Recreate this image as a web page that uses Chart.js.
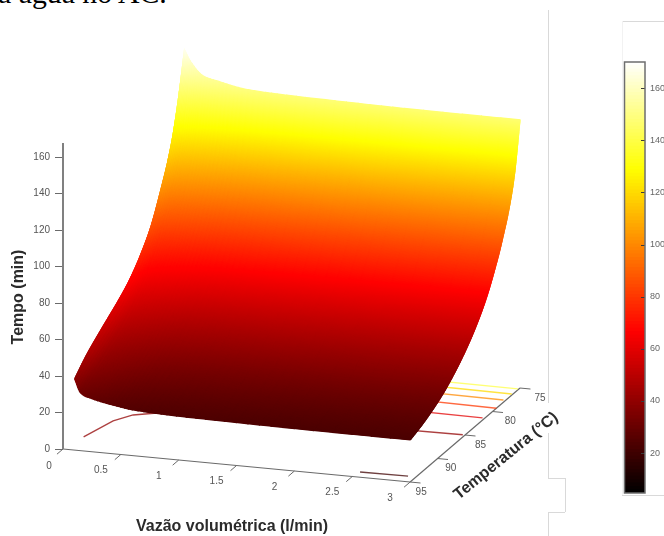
<!DOCTYPE html>
<html>
<head>
<meta charset="utf-8">
<script src="https://cdn.jsdelivr.net/npm/chart.js@4"></script>
<style>
	html, body { margin: 0; padding: 0; background: #fff; overflow: hidden; width: 664px; height: 536px; }
	#mycanvas { position: absolute; left: 0; top: 0; filter: blur(0.45px); }
	#barcanvas { position: absolute; left: 600px; top: 40px; filter: blur(0.45px); }
	#caption { position: absolute; left: -2px; top: -22px; font: 29.8px/30px "Liberation Serif", serif; color: #000; white-space: nowrap; }
	.rule { position: absolute; background: #d9d9d9; }
</style>
</head>
<body>
<div id="caption">a água no AC.</div>
<div class="rule" style="left:548px;top:10px;width:1px;height:393px"></div>
<div class="rule" style="left:548px;top:433px;width:1px;height:45px"></div>
<div class="rule" style="left:548px;top:478px;width:17px;height:1px"></div>
<div class="rule" style="left:565px;top:478px;width:1px;height:34px"></div>
<div class="rule" style="left:548px;top:512px;width:17px;height:1px"></div>
<div class="rule" style="left:548px;top:512px;width:1px;height:24px"></div>
<div class="rule" style="left:622px;top:21px;width:42px;height:1px"></div>
<div class="rule" style="left:622px;top:21px;width:1px;height:474px;background:#f2f2f2"></div>
<div class="rule" style="left:622px;top:495px;width:42px;height:1px"></div>
<canvas id="mycanvas" width="664" height="536"></canvas>
<canvas id="barcanvas" width="64" height="470"></canvas>
<script>
var flows = [0.1, 0.15, 0.25, 0.4, 0.6, 0.9, 1.4, 2, 3];
var temps = [75, 76, 77, 78, 79, 81, 83, 85, 87, 89, 91, 93, 95];
var times = [
	[168, 162, 155, 152.3, 149.7, 148.5, 147.8, 147.2, 147],
	[146, 137, 129.9, 126.5, 123.4, 121.8, 121, 120.3, 120],
	[128, 117, 112.8, 109.6, 106.7, 105.2, 104.5, 103.7, 103.5],
	[115, 104.7, 100.7, 97.8, 95, 93.6, 92.9, 92.2, 92],
	[105, 94.7, 90.7, 87.8, 85, 83.6, 82.9, 82.2, 82],
	[87.5, 77.8, 74.2, 71.4, 68.8, 67.5, 66.9, 66.2, 66],
	[76, 66.3, 62.7, 59.9, 57.3, 56, 55.4, 54.7, 54.5],
	[67.5, 57.7, 54, 51.2, 48.5, 47.2, 46.6, 45.9, 45.7],
	[61.5, 51.2, 47.4, 44.4, 41.7, 40.3, 39.6, 38.9, 38.7],
	[56.5, 45.9, 41.9, 38.9, 36.1, 34.6, 33.9, 33.2, 33],
	[51.5, 41.3, 37.4, 34.5, 31.8, 30.4, 29.7, 29, 28.8],
	[46, 36.8, 33.3, 30.6, 28.2, 26.9, 26.3, 25.7, 25.5],
	[39, 31.8, 29.1, 27, 25.1, 24.1, 23.6, 23.2, 23]
];

// floor contours, one entry per level
var contourLevels = [20, 40, 60, 80, 100, 120, 140];
var contourFlows = [
	[2.52, 2.93],
	[0.05, 0.134, 0.235, 0.404, 0.528, 1.5, 2.98],
	[1.8, 2.98],
	[1.8, 3],
	[1.8, 2.98],
	[1.8, 2.99],
	[1.8, 2.99]
];
var contourTemps = [
	[94, 93.9],
	[92.3, 88.7, 87.2, 86.4, 86.1, 85.3, 85],
	[81.2, 81.4],
	[79, 79.3],
	[77.4, 77.6],
	[76.1, 76.3],
	[75.1, 75.2]
];

var flowTicks = [0, 0.5, 1, 1.5, 2, 2.5, 3];
var tempTicks = [75, 80, 85, 90, 95];
var timeTicks = [0, 20, 40, 60, 80, 100, 120, 140, 160];
var barTicks = [20, 40, 60, 80, 100, 120, 140, 160];
var colorMin = 4.7;
var colorMax = 170;

// MATLAB view: the temperature and flow axes are sheared into the x/y scales
function project(f, T, t) {
	var d = 95 - T;
	return { x: f + 0.0475 * d, y: t - 6.03 * f + 2.575 * d };
}

function hot(t, alpha) {
	var v = (t - colorMin) / (colorMax - colorMin);
	var c = function(a) { return Math.round(255 * Math.max(0, Math.min(1, a))); };
	var rgb = c(v / 0.375) + "," + c((v - 0.375) / 0.375) + "," + c((v - 0.75) / 0.25);
	return "rgba(" + rgb + "," + (alpha === undefined ? 1 : alpha) + ")";
}

var datasets = [];

var surfacePoints = [];
for (var i in temps) {
	for (var j in flows) {
		surfacePoints.push(project(flows[j], temps[i], times[i][j]));
	}
}
datasets.push({ label: "Tempo", data: surfacePoints, showLine: false, pointRadius: 0 });

function addLine(points, color, width) {
	datasets.push({ data: points, showLine: true, borderColor: color, borderWidth: width, pointRadius: 0, fill: false, clip: false });
}

contourLevels.forEach(function(level, n) {
	var pts = contourFlows[n].map(function(f, k) { return project(f, contourTemps[n][k], 0); });
	addLine(pts, hot(level, 0.75), 1.4);
});

addLine([project(0, 95, 0), project(0, 95, 167.7)], "#808080", 2);
addLine([project(0, 95, 0), project(3, 95, 0)], "#6a6a6a", 1.2);
addLine([project(3, 95, 0), project(3, 75, 0)], "#6a6a6a", 1.2);
flowTicks.forEach(function(f) {
	addLine([project(f, 95, 0), project(f, 96.1, 0)], "#6a6a6a", 1);
});
tempTicks.forEach(function(T) {
	addLine([project(3, T, 0), project(3.09, T, 0)], "#6a6a6a", 1);
});

// cubic hermite through table values, slopes from the neighbours
function hermite(xv, yv, k, u) {
	var n = xv.length - 1;
	var h = xv[k + 1] - xv[k];
	var m0 = k > 0 ? (yv[k + 1] - yv[k - 1]) / (xv[k + 1] - xv[k - 1]) : (yv[1] - yv[0]) / (xv[1] - xv[0]);
	var m1 = k + 1 < n ? (yv[k + 2] - yv[k]) / (xv[k + 2] - xv[k]) : (yv[n] - yv[n - 1]) / (xv[n] - xv[n - 1]);
	var u2 = u * u, u3 = u2 * u;
	return (2 * u3 - 3 * u2 + 1) * yv[k] + (u3 - 2 * u2 + u) * h * m0 + (-2 * u3 + 3 * u2) * yv[k + 1] + (u3 - u2) * h * m1;
}

var columns = flows.map(function(_, c) {
	return times.map(function(row) { return row[c]; });
});

var surfacePlugin = {
	id: "surface",
	afterDatasetsDraw: function(chart) {
		var ctx = chart.ctx, xs = chart.scales.x, ys = chart.scales.y;
		var nf = 6;
		function rowAt(i, b) {
			return columns.map(function(col) { return hermite(temps, col, i, b); });
		}
		function node(row, T, j, a) {
			var f = flows[j] + (flows[j + 1] - flows[j]) * a;
			var t = hermite(flows, row, j, a);
			var p = project(f, T, t);
			return { x: xs.getPixelForValue(p.x), y: ys.getPixelForValue(p.y), t: t };
		}
		ctx.save();
		ctx.lineWidth = 1.1;
		for (var i = 0; i < temps.length - 1; i++) {
			var dT = temps[i + 1] - temps[i];
			// about 0.7px per row so the colour ramp stays smooth
			var nt = Math.ceil((Math.abs(times[i + 1][8] - times[i][8]) * 1.825 + 4.7 * dT) / 0.7);
			for (var b = 0; b < nt; b++) {
				var r1 = rowAt(i, b / nt), r2 = rowAt(i, (b + 1) / nt);
				var T1 = temps[i] + dT * b / nt, T2 = temps[i] + dT * (b + 1) / nt;
				for (var j = 0; j < flows.length - 1; j++) {
					for (var a = 0; a < nf; a++) {
						var p1 = node(r1, T1, j, a / nf);
						var p2 = node(r1, T1, j, (a + 1) / nf);
						var p3 = node(r2, T2, j, (a + 1) / nf);
						var p4 = node(r2, T2, j, a / nf);
						var col = hot((p1.t + p2.t + p3.t + p4.t) / 4);
						ctx.fillStyle = col;
						ctx.strokeStyle = col;
						ctx.beginPath();
						ctx.moveTo(p1.x, p1.y);
						ctx.lineTo(p2.x, p2.y);
						ctx.lineTo(p3.x, p3.y);
						ctx.lineTo(p4.x, p4.y);
						ctx.closePath();
						ctx.fill();
						ctx.stroke();
					}
				}
			}
		}
		ctx.restore();
	}
};

var labelPlugin = {
	id: "axisLabels",
	afterDraw: function(chart) {
		var ctx = chart.ctx, xs = chart.scales.x, ys = chart.scales.y;
		function pix(f, T) {
			var p = project(f, T, 0);
			return { x: xs.getPixelForValue(p.x), y: ys.getPixelForValue(p.y) };
		}
		ctx.save();
		ctx.textAlign = "center";
		ctx.textBaseline = "middle";
		ctx.fillStyle = "#555";
		ctx.font = "10px 'Liberation Sans'";
		flowTicks.forEach(function(f) {
			var p = pix(f, 95);
			ctx.fillText(String(f), p.x - (f === 0 ? 14 : 20), p.y + (f === 0 ? 17 : 16));
		});
		tempTicks.forEach(function(T) {
			var p = pix(3, T);
			ctx.fillText(String(T), p.x + 11 + (95 - T) * 0.45, p.y + 10);
		});
		ctx.fillStyle = "#2b2b2b";
		ctx.font = "bold 16px 'Liberation Sans'";
		ctx.fillText("Vazão volumétrica (l/min)", 232, 527);
		ctx.save();
		ctx.translate(19, 297);
		ctx.rotate(-Math.PI / 2);
		ctx.fillText("Tempo (min)", 0, 0);
		ctx.restore();
		ctx.save();
		ctx.translate(506, 456);
		ctx.rotate(-39 * Math.PI / 180);
		ctx.fillText("Temperatura (°C)", 0, 0);
		ctx.restore();
		ctx.restore();
	}
};

var surfaceChart = new Chart(document.getElementById("mycanvas"), {
	type: "scatter",
	data: { datasets: datasets },
	plugins: [surfacePlugin, labelPlugin],
	options: {
		responsive: false,
		animation: false,
		layout: { padding: 0 },
		plugins: { legend: { display: false }, tooltip: { enabled: false } },
		scales: {
			x: { type: "linear", display: false, min: 0, max: 5.194 },
			y: {
				type: "linear",
				position: "left",
				min: -47.67,
				max: 246.03,
				afterBuildTicks: function(scale) {
					scale.ticks = timeTicks.map(function(v) { return { value: v }; });
				},
				afterFit: function(scale) {
					scale.width = 63;
					scale.paddingTop = 0;
					scale.paddingBottom = 0;
				},
				border: { display: false },
				grid: { drawOnChartArea: false, tickLength: 8, tickColor: "#6a6a6a", tickWidth: 1 },
				ticks: { autoSkip: false, padding: 5, color: "#555", font: { family: "Liberation Sans", size: 10 } }
			}
		}
	}
});

// colour bar
var barLevels = [];
for (var k = 0; k < 128; k++) {
	var lo = colorMin + (colorMax - colorMin) * k / 128;
	var hi = colorMin + (colorMax - colorMin) * (k + 1) / 128;
	barLevels.push({ data: [[lo - 1, hi]], backgroundColor: hot((lo + hi) / 2), borderWidth: 0, barPercentage: 1, categoryPercentage: 1, grouped: false });
}

var barFrame = {
	id: "barFrame",
	afterDraw: function(chart) {
		var ctx = chart.ctx, a = chart.chartArea, ys = chart.scales.y;
		ctx.save();
		ctx.strokeStyle = "#3a3a3a";
		ctx.lineWidth = 1;
		barTicks.forEach(function(v) {
			var py = Math.round(ys.getPixelForValue(v)) + 0.5;
			ctx.beginPath();
			ctx.moveTo(a.right - 4, py);
			ctx.lineTo(a.right, py);
			ctx.stroke();
		});
		ctx.strokeStyle = "#6e6e6e";
		ctx.lineWidth = 1.5;
		ctx.strokeRect(a.left, a.top, a.right - a.left, a.bottom - a.top);
		ctx.restore();
	}
};

var barChart = new Chart(document.getElementById("barcanvas"), {
	type: "bar",
	data: { labels: [""], datasets: barLevels },
	plugins: [barFrame],
	options: {
		responsive: false,
		animation: false,
		layout: { padding: { left: 24.5, top: 22, bottom: 17, right: 0 } },
		plugins: { legend: { display: false }, tooltip: { enabled: false } },
		scales: {
			x: { display: false },
			y: {
				position: "right",
				min: colorMin,
				max: colorMax,
				afterBuildTicks: function(scale) {
					scale.ticks = barTicks.map(function(v) { return { value: v }; });
				},
				afterFit: function(scale) {
					scale.width = 19;
					scale.paddingTop = 0;
					scale.paddingBottom = 0;
				},
				border: { display: false },
				grid: { display: false, drawTicks: false, tickLength: 0 },
				ticks: { padding: 5, color: "#666", font: { family: "Liberation Sans", size: 9 } }
			}
		}
	}
});
</script>
</body>
</html>
